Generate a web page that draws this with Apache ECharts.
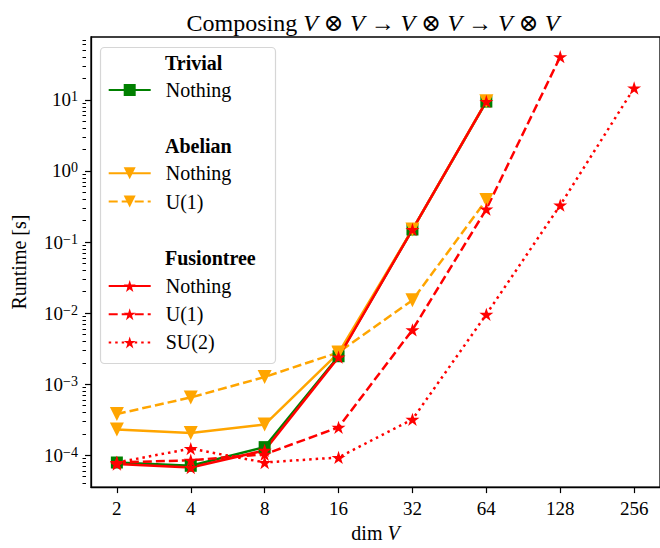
<!DOCTYPE html>
<html>
<head>
<meta charset="utf-8">
<title>Composing V⊗V</title>
<script src="https://cdn.jsdelivr.net/npm/echarts@6/dist/echarts.min.js"></script>
<style>
  html, body { margin: 0; padding: 0; background: #fff; }
  #chart { width: 660px; height: 548px; }
</style>
</head>
<body>
<div id="chart"></div>
<script>
// dim V
var dims = [2, 4, 8, 16, 32, 64, 128, 256];

// runtime [s]
var trivialNothing = [7.9e-5, 7.1e-5, 1.3e-4, 2.47e-3, 0.150, 9.46];
var abelianNothing = [2.3e-4, 2.06e-4, 2.7e-4, 2.75e-3, 0.150, 9.6];
var abelianU1 = [3.8e-4, 6.5e-4, 1.26e-3, 2.8e-3, 0.0152, 0.39];
var fusionNothing = [7.5e-5, 6.7e-5, 1.17e-4, 2.4e-3, 0.150, 9.5];
var fusionU1 = [7.9e-5, 8.5e-5, 1.03e-4, 2.47e-4, 5.8e-3, 0.29, 40.5];
var fusionSU2 = [7.9e-5, 1.24e-4, 7.9e-5, 9.3e-5, 3.2e-4, 9.6e-3, 0.33, 14.7];

var yTicks = [1e-4, 1e-3, 1e-2, 1e-1, 1, 10];

var FONT = '"Liberation Serif", "DejaVu Serif", serif';
var yMin = 3.56e-5, yMax = 76.7;
var xMin = Math.pow(2, 0.65), xMax = Math.pow(2, 8.35);
var GRID_W = 660 + 5 - 91;

// minor ticks 2..9 x 10^k like matplotlib
var yMinorTicks = [];
for (var e = -5; e <= 1; e++) {
  for (var m = 2; m <= 9; m++) {
    var v = m * Math.pow(10, e);
    if (v > yMin && v < yMax) yMinorTicks.push(v);
  }
}

var STAR = 'path://M100,0 L122.45,69.1 L195.1,69.1 L136.33,111.8 L158.8,180.9 L100,138.2 L41.2,180.9 L63.67,111.8 L4.9,69.1 L77.55,69.1 Z';
var LW = 2.5;
var DASH = [9, 4];
var DOT = [2.5, 4];

function pairs(vals) {
  return vals.map(function (v, i) { return [dims[i], v]; });
}

function line(name, vals, color, symbol, size, dash, rotate) {
  return {
    name: name,
    type: 'line',
    data: pairs(vals),
    symbol: symbol,
    symbolSize: size,
    symbolRotate: rotate || 0,
    symbolKeepAspect: true,
    showAllSymbol: true,
    lineStyle: { color: color, width: LW, type: dash },
    itemStyle: { color: color, borderWidth: 0 },
    emphasis: { disabled: true },
    animation: false
  };
}

var legendCommon = {
  orient: 'vertical',
  left: 107.7,
  padding: 0,
  itemWidth: 42,
  itemHeight: 15,
  itemGap: 8.2,
  selectedMode: false,
  formatter: function (name) { return name.split('|')[1]; },
  textStyle: { fontFamily: FONT, fontSize: 20, color: '#000', lineHeight: 20, padding: [0, 0, 0, 10] }
};

function header(text, y) {
  return {
    type: 'text', x: 165, y: y, z: 5,
    style: { text: text, fontFamily: FONT, fontSize: 20, fontWeight: 'bold', fill: '#000', verticalAlign: 'middle' }
  };
}

var chart = echarts.init(document.getElementById('chart'), null, { renderer: 'svg' });

chart.setOption({
  backgroundColor: '#fff',
  animation: false,
  title: {
    text: '{n|Composing }{i|V}{n| ⊗ }{i|V}{n| → }{i|V}{n| ⊗ }{i|V}{n| → }{i|V}{n| ⊗ }{i|V}',
    left: 368,
    top: 6,
    textAlign: 'center',
    textStyle: {
      fontWeight: 'normal',
      rich: {
        n: { fontFamily: FONT, fontSize: 24, fontWeight: 'normal', color: '#000' },
        i: { fontFamily: FONT, fontSize: 24, fontWeight: 'normal', fontStyle: 'italic', color: '#000' }
      }
    }
  },
  grid: {
    left: 91, top: 37, right: -5, bottom: 55,
    show: true, borderColor: '#000', borderWidth: 1.3, backgroundColor: 'transparent'
  },
  legend: [
    Object.assign({}, legendCommon, { top: 80, data: ['Trivial|Nothing'] }),
    Object.assign({}, legendCommon, { top: 163.3, data: ['Abelian|Nothing', 'Abelian|U(1)'] }),
    Object.assign({}, legendCommon, { top: 276, data: ['Fusiontree|Nothing', 'Fusiontree|U(1)', 'Fusiontree|SU(2)'] })
  ],
  graphic: [
    {
      type: 'rect', z: 3,
      shape: { x: 100.5, y: 47.5, width: 175, height: 316, r: 4 },
      style: { fill: 'rgba(255,255,255,0.8)', stroke: '#d6d6d6', lineWidth: 1.2 }
    },
    header('Trivial', 62.7),
    header('Abelian', 146),
    header('Fusiontree', 257.7)
  ],
  xAxis: {
    type: 'log',
    logBase: 2,
    min: xMin,
    max: xMax,
    name: '{n|dim }{i|V}',
    nameLocation: 'middle',
    nameGap: 33,
    nameTextStyle: {
      rich: {
        n: { fontFamily: FONT, fontSize: 20, color: '#000' },
        i: { fontFamily: FONT, fontSize: 20, fontStyle: 'italic', color: '#000' }
      }
    },
    axisLine: { lineStyle: { color: '#000', width: 1.3 } },
    axisTick: { length: 6, lineStyle: { color: '#000', width: 1.2 }, customValues: dims },
    axisLabel: { customValues: dims, margin: 12, fontFamily: FONT, fontSize: 19, color: '#000' },
    splitLine: { show: false },
    minorTick: { show: false }
  },
  yAxis: [{
    type: 'log',
    logBase: 10,
    min: yMin,
    max: yMax,
    name: 'Runtime [s]',
    nameLocation: 'middle',
    nameGap: 62,
    nameTextStyle: { fontFamily: FONT, fontSize: 20, color: '#000' },
    axisLine: { lineStyle: { color: '#000', width: 1.3 } },
    axisTick: { length: 6, lineStyle: { color: '#000', width: 1.2 }, customValues: yTicks },
    axisLabel: {
      customValues: yTicks,
      margin: 13,
      formatter: function (v) {
        var p = Math.round(Math.log10(v));
        return '{b|10}{s|' + (p < 0 ? '\u2212' + (-p) : p) + '}';
      },
      rich: {
        b: { fontFamily: FONT, fontSize: 19, color: '#000', lineHeight: 20 },
        s: { fontFamily: FONT, fontSize: 14, color: '#000', lineHeight: 14, verticalAlign: 'top' }
      }
    },
    splitLine: { show: false }
  }, {
    // minor ticks only: second axis goes to the right, pulled back onto the left edge
    type: 'log',
    logBase: 10,
    min: yMin,
    max: yMax,
    position: 'right',
    offset: -GRID_W,
    axisLine: { show: false },
    axisTick: { show: true, inside: true, length: 3.5, lineStyle: { color: '#000', width: 1 }, customValues: yMinorTicks },
    axisLabel: { show: false },
    splitLine: { show: false }
  }],
  series: [
    line('Trivial|Nothing', trivialNothing, 'green', 'rect', 12, 'solid'),
    line('Abelian|Nothing', abelianNothing, 'orange', 'triangle', 14, 'solid', 180),
    line('Abelian|U(1)', abelianU1, 'orange', 'triangle', 14, DASH, 180),
    line('Fusiontree|Nothing', fusionNothing, 'red', STAR, 14, 'solid'),
    line('Fusiontree|U(1)', fusionU1, 'red', STAR, 14, DASH),
    line('Fusiontree|SU(2)', fusionSU2, 'red', STAR, 14, DOT)
  ]
});
</script>
</body>
</html>
